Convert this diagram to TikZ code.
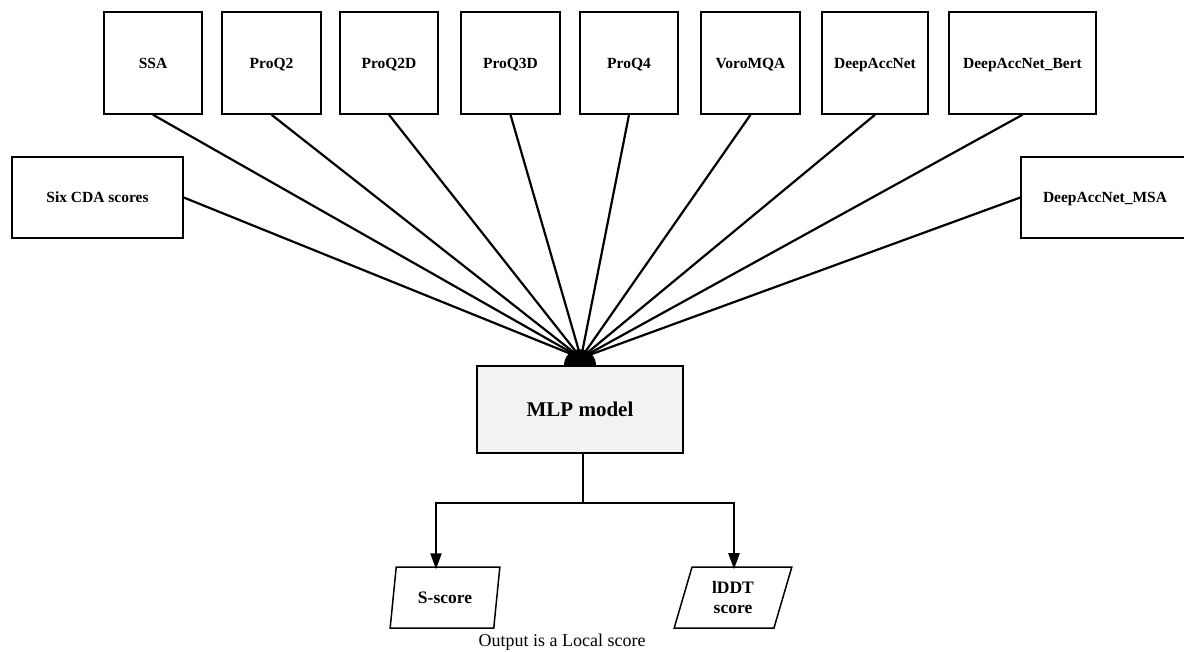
\documentclass[tikz,border=0pt]{standalone}
\usepackage{fontspec}
\setmainfont{Liberation Serif}
\usetikzlibrary{shapes.geometric,arrows.meta}
\begin{document}
\begin{tikzpicture}[x=1pt,y=-1pt,
  inbox/.style={draw,line width=1.5pt,rectangle,inner sep=0pt,
    font=\fontsize{15.5}{17}\selectfont\bfseries,align=center,
    text height=11pt,text depth=1pt},
  topbox/.style={inbox,minimum height=102pt},
  sidebox/.style={inbox,minimum height=81pt},
  feed/.style={line width=2.2pt},
  outbox/.style={draw,line width=1.5pt,trapezium,trapezium left angle=74,
    trapezium right angle=106,trapezium stretches=true,minimum height=61pt,
    inner sep=0pt,font=\fontsize{17.5}{19.5}\selectfont\bfseries,align=center},
  flow/.style={line width=2.2pt,-{Triangle[length=16pt,width=11pt]}}]
\useasboundingbox (0,0) rectangle (1184,651);
\fill[white] (0,0) rectangle (1184,651);

% input scorers along the top
\node[topbox,minimum width=98pt]  (ssa)   at (153,63)    {SSA};
\node[topbox,minimum width=99pt]  (pq2)   at (271.5,63)  {ProQ2};
\node[topbox,minimum width=98pt]  (pq2d)  at (389,63)    {ProQ2D};
\node[topbox,minimum width=99pt]  (pq3d)  at (510.5,63)  {ProQ3D};
\node[topbox,minimum width=98pt]  (pq4)   at (629,63)    {ProQ4};
\node[topbox,minimum width=99pt]  (voro)  at (750.5,63)  {VoroMQA};
\node[topbox,minimum width=106pt] (dan)   at (875,63)    {DeepAccNet};
\node[topbox,minimum width=147pt] (danb)  at (1022.5,63) {DeepAccNet\_Bert};

% side inputs
\node[sidebox,minimum width=171pt] (cda)  at (97.5,197.5) {Six CDA scores};
\node[sidebox,minimum width=168pt] (dmsa) at (1105,197.5) {DeepAccNet\_MSA};

% the model
\node[draw,line width=1.5pt,fill=black!5,minimum width=206pt,minimum height=87pt,
  inner sep=0pt,font=\fontsize{21}{23}\selectfont\bfseries] (mlp) at (580,409.5) {MLP model};
\coordinate (hub) at (581,358);

% all inputs meet at the model
\foreach \s in {ssa,pq2,pq2d,pq3d,pq4,voro,dan,danb}
  \draw[feed] (\s.south) -- (hub);
\draw[feed] (cda.east) -- (hub);
\draw[feed] (dmsa.west) -- (hub);
\fill ([xshift=-16pt]mlp.north) arc[start angle=180,end angle=0,radius=16pt] -- cycle;

% outputs
\node[outbox,minimum width=110pt] (ss)   at (445,597.5) {S-score};
\node[outbox,minimum width=118pt] (lddt) at (733,597.5) {lDDT\\score};
\coordinate (split) at (583,503);
\coordinate (lt) at (436,503);
\coordinate (rt) at (734,503);
\draw[line width=2.2pt] (mlp.south -| split) -- (split);
\draw[line width=2.2pt,line cap=rect] (lt) -- (rt);
\draw[flow] (lt) -- ([yshift=-3pt]lt |- ss.north);
\draw[flow] (rt) -- ([yshift=-3pt]rt |- lddt.north);

\node[font=\fontsize{18}{20}\selectfont] (note) at (562,642) {Output is a Local score};
\end{tikzpicture}
\end{document}
